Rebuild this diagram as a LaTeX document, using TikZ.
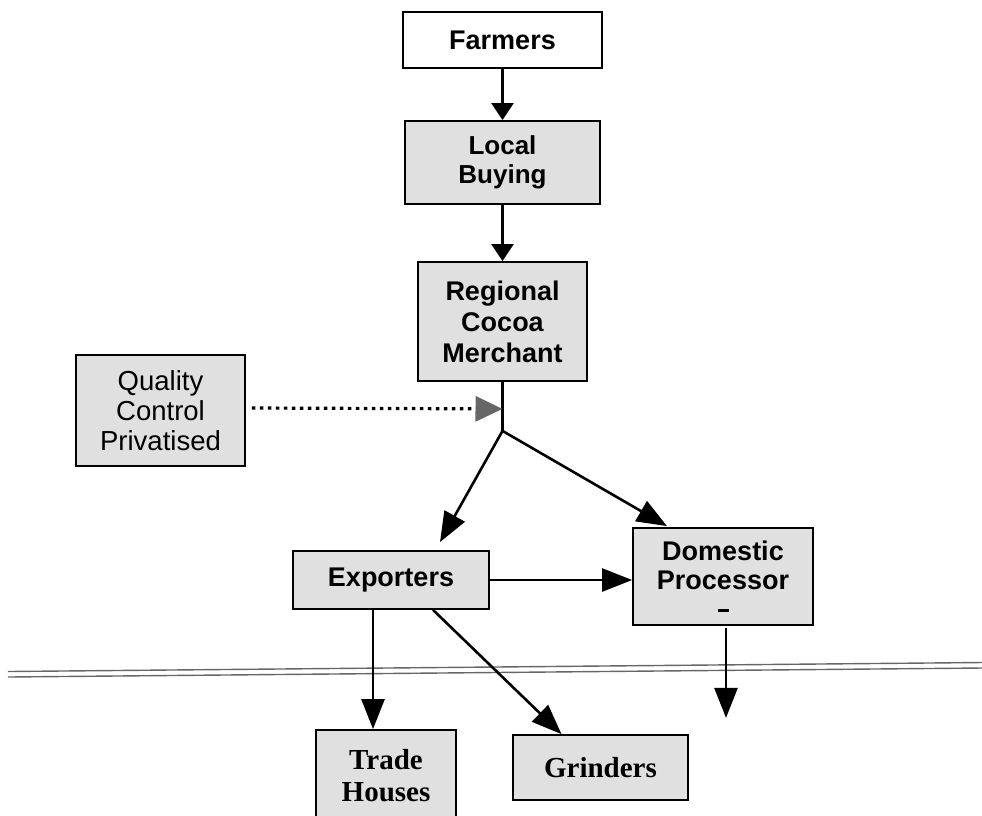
\documentclass[tikz,border=0pt]{standalone}
\usepackage{fontspec}
\setmainfont{Liberation Serif}
\setsansfont{Liberation Sans}
\usetikzlibrary{arrows.meta,calc}
\begin{document}
\begin{tikzpicture}[x=1pt,y=-1pt,
  boxb/.style={draw=black,line width=1.8pt,fill=black!12,align=center,inner sep=0pt,
    font=\sffamily\bfseries\fontsize{27}{30}\selectfont},
  boxr/.style={boxb,font=\sffamily\fontsize{27.5}{30}\selectfont},
  boxs/.style={boxb,font=\rmfamily\bfseries\fontsize{29}{32}\selectfont},
  conn/.style={line width=2.6pt,-{Triangle[length=30pt,width=23pt]}},
  connsm/.style={line width=2.4pt,-{Triangle[length=17pt,width=22pt]}},
  dotconn/.style={line width=3.2pt,dash pattern=on 3.5pt off 4.5pt,
    -{Triangle[length=27pt,width=25pt,color=black!60,fill=black!60]}},
  sep/.style={line width=1.4pt,draw=black!60}]
\useasboundingbox (0,0) rectangle (982,815);
\node[boxb,fill=white,minimum width=199pt,minimum height=56pt] (farm) at (502.5,40) {Farmers};
\node[boxb,font=\sffamily\bfseries\fontsize{26}{29}\selectfont,minimum width=195pt,minimum height=83pt] (local) at (502.5,162.5) {Local\\Buying};
\node[boxb,font=\sffamily\bfseries\fontsize{27}{31}\selectfont,minimum width=169pt,minimum height=119pt] (reg) at (502.5,321.5) {Regional\\Cocoa\\Merchant};
\node[boxr,minimum width=169pt,minimum height=111pt] (qc) at (160.5,410.5) {Quality\\Control\\Privatised};
\node[boxb,minimum width=196pt,minimum height=58pt] (exp) at (391,580) {Exporters};
\node[boxb,font=\sffamily\bfseries\fontsize{27}{29}\selectfont,minimum width=180pt,minimum height=97pt] (dom) at (723,576.5) {Domestic\\Processor\\[-6pt]\rule{11pt}{3pt}};
\node[boxs,minimum width=140pt,minimum height=92pt] (trade) at (386,776) {Trade\\Houses};
\node[boxs,minimum width=175pt,minimum height=65pt] (grind) at (600.5,767.5) {Grinders};
\coordinate (j) at ($(reg.south)+(0,49)$);
\coordinate (m) at ($(reg.south)+(0,27)$);
\coordinate (domend) at ($(dom.south)+(3,92)$);
% separator
\draw[sep] (8,671.5) -- (982,662.5);
\draw[sep] (8,677) -- (982,668);
% connectors
\draw[connsm] (farm.south) -- (local.north);
\draw[connsm] (local.south) -- (reg.north);
\draw[line width=2.4pt] (reg.south) -- (j);
\draw[dotconn] ($(qc.east)+(6,-2.5)$) -- (m);
\draw[conn] (j) -- ($(exp.north)+(49,-8)$);
\draw[conn] (j) -- ($(dom.north)+(-56,-1)$);
\draw[conn] (exp.east) -- (exp.east -| dom.west);
\draw[conn] ($(exp.south)+(-18,0)$) -- ($(trade.north)+(-13,0)$);
\draw[conn] ($(exp.south)+(42,0)$) -- ($(grind.north)+(-39,0)$);
\draw[conn] ($(dom.south)+(3,2)$) -- (domend);
\end{tikzpicture}
\end{document}
